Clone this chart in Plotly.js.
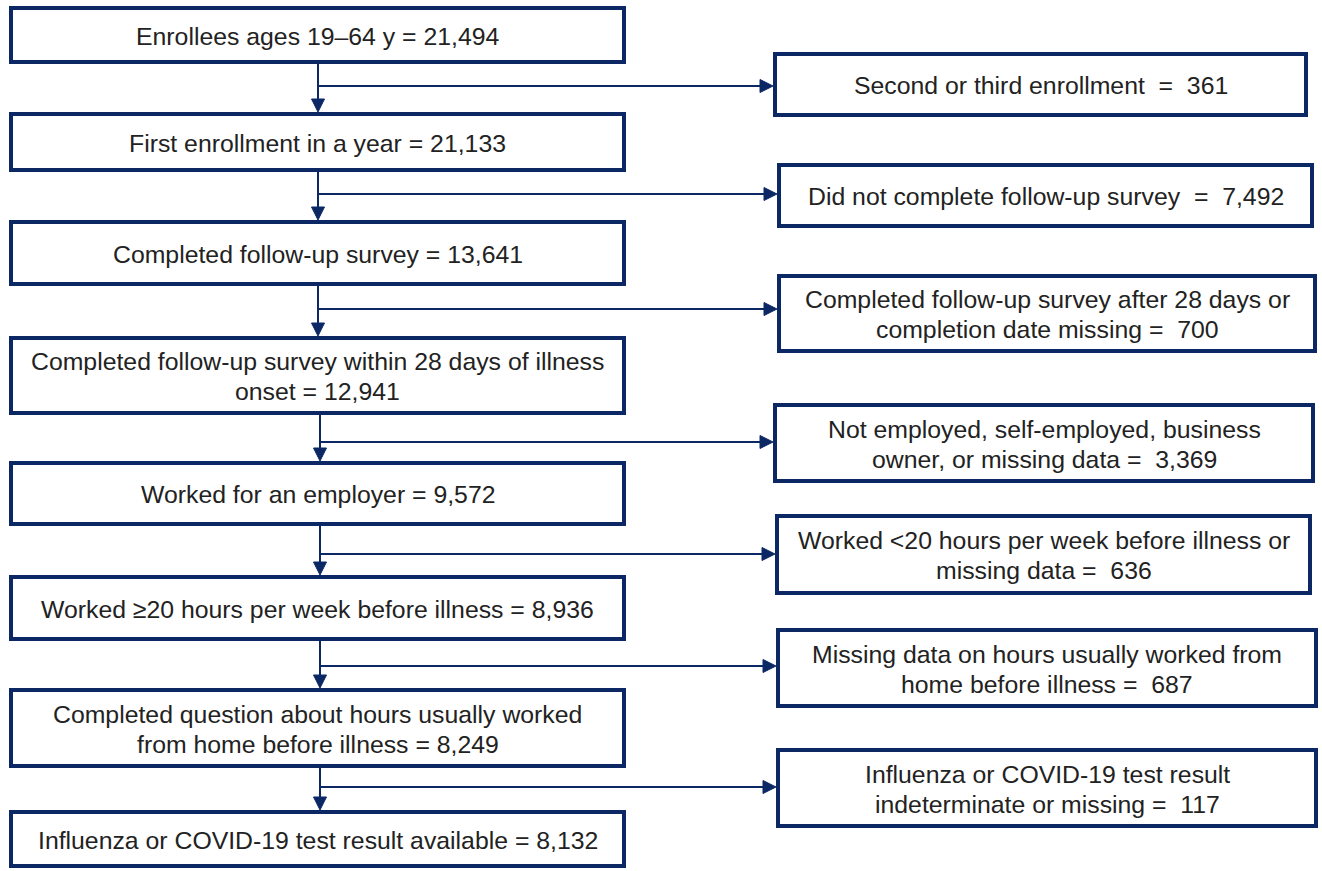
<!DOCTYPE html>
<html>
<head>
<meta charset="utf-8">
<script src="https://cdn.plot.ly/plotly-3.0.1.min.js"></script>
<style>html,body{margin:0;padding:0;background:#fff;}#chart{width:1322px;height:871px;}</style>
</head>
<body>
<div id="chart"></div>
<script>
// ---- Data ----
const mainLabels = [
  "Enrollees ages 19\u201364 y",
  "First enrollment in a year",
  "Completed follow-up survey",
  "Completed follow-up survey within 28 days of illness<br>onset",
  "Worked for an employer",
  "Worked \u226520 hours per week before illness",
  "Completed question about hours usually worked<br>from home before illness",
  "Influenza or COVID-19 test result available"
];
const mainCounts = [21494, 21133, 13641, 12941, 9572, 8936, 8249, 8132];
const exclLabels = [
  "Second or third enrollment ",
  "Did not complete follow-up survey ",
  "Completed follow-up survey after 28 days or<br>completion date missing",
  "Not employed, self-employed, business<br>owner, or missing data",
  "Worked <20 hours per week before illness or<br>missing data",
  "Missing data on hours usually worked from<br>home before illness",
  "Influenza or COVID-19 test result<br>indeterminate or missing"
];
const exclCounts = [361, 7492, 700, 3369, 636, 687, 117];

// ---- Layout geometry (pixel coordinates, y down) ----
const mainX = [11, 624];
const mainY = [[8,62],[114,170],[222,284],[338,413],[463,524],[577,639],[690,766],[812,866]];
const exclX = [[775,1306],[779,1312],[779,1315],[775,1313],[777,1310],[778,1316],[778,1316]];
const exclY = [[54,115],[165,226],[276,351],[405,481],[516,593],[630,706],[750,826]];
const connX = [318,318,318,320,320,320,320];
const branchY = [86,194,309,442,554,666,787];

const navy = "#0b2865";
const textColor = "#222222";
const fontSize = 24.8;
const lineGap = 30;
const fmt = n => n.toLocaleString("en-US");
const nb = "\u00a0";

const shapes = [];
const annotations = [];

function addText(text, cx, cy) {
  const lines = text.split("<br>");
  const n = lines.length;
  lines.forEach((ln, k) => {
    annotations.push({x:cx, y:cy + (k - (n-1)/2) * lineGap + 1, xref:"x", yref:"y",
      text: ln, showarrow:false,
      font:{family:"Liberation Sans, Arial, sans-serif", size:fontSize, color:textColor},
      xanchor:"center", yanchor:"middle", align:"center"});
  });
}

mainLabels.forEach((lab, i) => {
  const [y0, y1] = mainY[i];
  shapes.push({type:"rect", xref:"x", yref:"y", x0:mainX[0], x1:mainX[1], y0:y0, y1:y1,
    line:{color:navy, width:4}, fillcolor:"rgba(0,0,0,0)"});
  addText(lab + " = " + fmt(mainCounts[i]), (mainX[0]+mainX[1])/2, (y0+y1)/2);
});

exclLabels.forEach((lab, i) => {
  const [x0, x1] = exclX[i];
  const [y0, y1] = exclY[i];
  shapes.push({type:"rect", xref:"x", yref:"y", x0:x0, x1:x1, y0:y0, y1:y1,
    line:{color:navy, width:4}, fillcolor:"rgba(0,0,0,0)"});
  const txt = lab.endsWith(" ") ? lab.trim() + nb + nb + "=" + nb + nb + fmt(exclCounts[i])
                                : lab + " =" + nb + nb + fmt(exclCounts[i]);
  addText(txt, (x0+x1)/2, (y0+y1)/2);

  // connectors
  const cx = connX[i];
  const top = mainY[i][1] + 2;
  const bot = mainY[i+1][0] - 2;
  const by = branchY[i];
  const left = x0 - 2;
  shapes.push({type:"line", xref:"x", yref:"y", x0:cx, x1:cx, y0:top, y1:bot-10,
    line:{color:navy, width:2}});
  shapes.push({type:"path", xref:"x", yref:"y",
    path:`M ${cx-6.5} ${bot-13} L ${cx+6.5} ${bot-13} L ${cx} ${bot} Z`,
    fillcolor:navy, line:{color:navy, width:1}});
  shapes.push({type:"line", xref:"x", yref:"y", x0:cx, x1:left-10, y0:by, y1:by,
    line:{color:navy, width:2}});
  shapes.push({type:"path", xref:"x", yref:"y",
    path:`M ${left-13} ${by-6.5} L ${left-13} ${by+6.5} L ${left} ${by} Z`,
    fillcolor:navy, line:{color:navy, width:1}});
});

const layout = {
  width:1322, height:871,
  margin:{l:0, r:0, t:0, b:0},
  paper_bgcolor:"#ffffff", plot_bgcolor:"#ffffff",
  xaxis:{range:[0,1322], visible:false, fixedrange:true},
  yaxis:{range:[871,0], visible:false, fixedrange:true},
  showlegend:false,
  shapes:shapes,
  annotations:annotations
};

Plotly.newPlot("chart", [{x:[], y:[], type:"scatter", mode:"markers", hoverinfo:"skip"}], layout, {staticPlot:true, displayModeBar:false});
</script>
</body>
</html>
